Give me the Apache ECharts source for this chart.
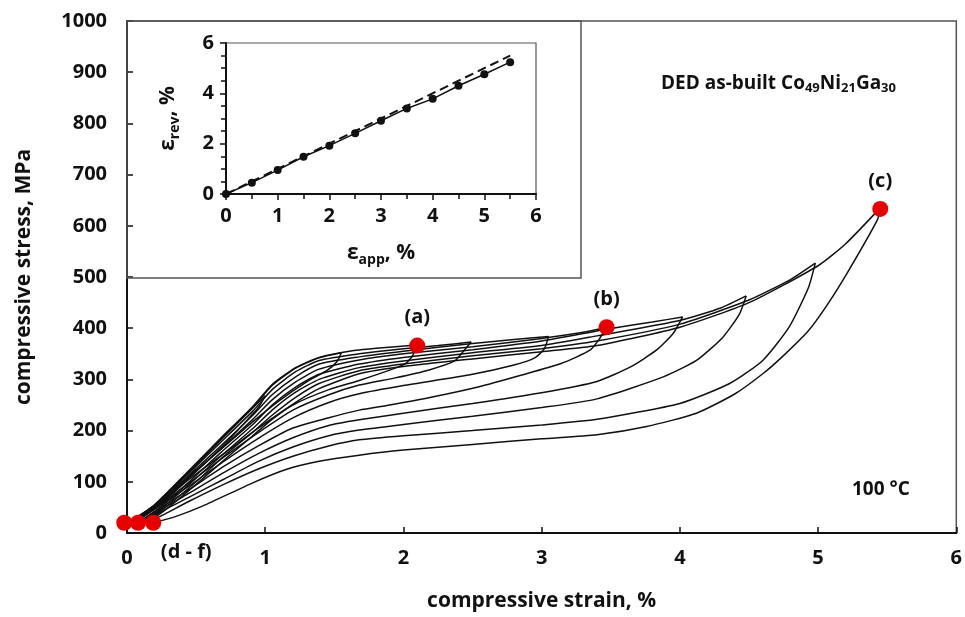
<!DOCTYPE html>
<html>
<head>
<meta charset="utf-8">
<script src="https://cdn.jsdelivr.net/npm/echarts@6/dist/echarts.min.js"></script>
<style>
  html, body { margin: 0; padding: 0; background: #fff; }
  #chart { width: 965px; height: 617px; }
</style>
</head>
<body>
<div id="chart"></div>
<script>
// loading / unloading branches, [strain %, stress MPa]
var load1 = [[0,20],[0.1,35],[0.2,52],[0.3,75],[0.4,100],[0.5,125]];
var unload1 = [[0.5,125],[0.4,95],[0.3,70],[0.2,48],[0.1,32],[0,20]];
var load2 = [[0,20],[0.2,54],[0.4,105],[0.6,160],[0.8,215],[1.0,268]];
var unload2 = [[1.0,268],[0.95,245],[0.85,215],[0.7,172],[0.5,120],[0.3,72],[0.15,42],[0.02,20]];
var load3 = [[0.02,20],[0.2,55],[0.43,115],[0.67,180],[0.91,245],[1.05,288],[1.22,322],[1.39,342],[1.55,352]];
var unload3 = [[1.55,352],[1.52,335],[1.45,318],[1.3,295],[1.1,258],[0.9,215],[0.7,168],[0.5,122],[0.3,75],[0.15,43],[0.03,20]];
var load4 = [[0.03,20],[0.2,55],[0.43,117],[0.67,183],[0.91,247],[1.05,290],[1.22,323],[1.39,343],[1.63,356],[1.85,362],[2.09,367]];
var unload4 = [[2.09,367],[2.07,348],[2.02,332],[1.92,320],[1.68,298],[1.46,280],[1.2,250],[0.95,205],[0.7,155],[0.45,105],[0.25,60],[0.04,20]];
var load5 = [[0.04,20],[0.2,52],[0.43,112],[0.67,175],[0.91,238],[1.05,280],[1.22,315],[1.39,337],[1.68,350],[2.0,360],[2.25,366],[2.49,373]];
var unload5 = [[2.49,373],[2.44,357],[2.37,336],[2.18,318],[1.94,303],[1.68,289],[1.46,270],[1.2,240],[0.95,196],[0.7,148],[0.45,98],[0.25,57],[0.05,20]];
var load6 = [[0.05,20],[0.2,50],[0.43,108],[0.67,168],[0.91,230],[1.05,270],[1.22,305],[1.39,330],[1.68,344],[2.0,355],[2.5,370],[2.8,378],[3.05,384]];
var unload6 = [[3.05,384],[3.02,360],[2.95,342],[2.8,328],[2.5,310],[2.0,288],[1.68,272],[1.46,255],[1.2,225],[0.95,185],[0.7,140],[0.45,92],[0.25,55],[0.05,20]];
var load7 = [[0.05,20],[0.2,48],[0.43,104],[0.67,162],[0.91,222],[1.05,260],[1.22,295],[1.39,320],[1.68,338],[2.0,350],[2.5,364],[3.0,380],[3.3,392],[3.47,402]];
var unload7 = [[3.47,402],[3.42,380],[3.35,357],[3.14,331],[2.85,308],[2.54,285],[2.2,265],[1.9,250],[1.68,240],[1.46,225],[1.2,205],[0.95,170],[0.7,130],[0.45,85],[0.25,50],[0.08,20]];
var load8 = [[0.08,20],[0.25,52],[0.45,100],[0.67,155],[0.91,212],[1.05,250],[1.22,285],[1.39,310],[1.68,330],[2.0,343],[2.5,358],[3.0,375],[3.47,398],[3.8,412],[4.02,422]];
var unload8 = [[4.02,422],[3.95,389],[3.83,357],[3.64,324],[3.4,296],[3.0,274],[2.5,253],[2.0,234],[1.68,221],[1.46,210],[1.2,186],[0.95,155],[0.7,118],[0.45,78],[0.25,46],[0.1,20]];
var load9 = [[0.1,20],[0.25,48],[0.45,95],[0.67,148],[0.91,204],[1.05,240],[1.22,275],[1.39,300],[1.68,323],[2.0,336],[2.5,352],[3.0,366],[3.4,385],[4.0,415],[4.3,440],[4.48,463]];
var unload9 = [[4.48,463],[4.43,427],[4.31,382],[4.12,337],[3.88,305],[3.4,262],[3.0,245],[2.5,228],[2.0,212],[1.68,201],[1.46,190],[1.2,168],[0.95,140],[0.7,105],[0.45,70],[0.25,42],[0.12,20]];
var load10 = [[0.12,20],[0.3,55],[0.5,100],[0.7,150],[0.91,197],[1.05,230],[1.22,265],[1.39,292],[1.68,317],[2.0,330],[2.5,346],[3.0,360],[3.4,375],[4.0,408],[4.5,455],[4.8,495],[4.98,527]];
var unload10 = [[4.98,527],[4.93,479],[4.79,402],[4.6,337],[4.36,292],[4.0,253],[3.4,222],[3.0,211],[2.5,200],[2.0,190],[1.68,182],[1.46,170],[1.2,150],[0.95,125],[0.7,95],[0.45,62],[0.28,38],[0.15,20]];
var load11 = [[0.15,20],[0.3,50],[0.5,95],[0.7,142],[0.91,190],[1.05,222],[1.22,255],[1.39,282],[1.68,311],[2.0,325],[2.5,340],[3.0,354],[3.4,366],[4.0,402],[4.5,450],[5.0,522],[5.2,565],[5.45,635]];
var unload11 = [[5.45,635],[5.43,612],[5.22,512],[5.07,447],[4.93,395],[4.74,344],[4.6,311],[4.4,272],[4.12,234],[3.76,208],[3.4,192],[3.0,184],[2.5,173],[2.0,162],[1.68,152],[1.39,140],[1.15,124],[0.91,98],[0.55,53],[0.35,32],[0.19,20]];

// red markers
var markedPoints = [['(a)',2.10,366],['(b)',3.47,402],['(c)',5.45,633]];
var residualPoints = [[-0.02,20],[0.08,20],[0.19,20]];

// inset: recovered vs applied strain
var appStrain = [0,0.5,1,1.5,2,2.5,3,3.5,4,4.5,5,5.5];
var revStrain = [0,0.45,0.95,1.48,1.92,2.41,2.91,3.40,3.78,4.30,4.76,5.24];
var idealLine = [[0,0],[5.5,5.5]];

var cycles = [load1,unload1,load2,unload2,load3,unload3,load4,unload4,load5,unload5,load6,unload6,
              load7,unload7,load8,unload8,load9,unload9,load10,unload10,load11,unload11];

var font = 'Open Sans';
var black = '#111';

var seriesList = [];
cycles.forEach(function (c) {
    seriesList.push({
        type: 'line',
        data: c,
        showSymbol: false,
        smooth: 0.2,
        lineStyle: {color: black, width: 1.5},
        silent: true,
        z: 2
    });
});

var dotLabel = {
    show: true,
    position: 'inside',
    formatter: '{b}',
    color: black,
    fontFamily: font,
    fontWeight: 'bold',
    fontSize: 20
};

seriesList.push({
    type: 'scatter',
    data: markedPoints.map(function (p) { return {name: p[0], value: [p[1], p[2]]}; }),
    symbolSize: 16,
    itemStyle: {color: '#e60000', opacity: 1},
    clip: false,
    z: 5,
    label: Object.assign({offset: [0, -28]}, dotLabel)
});
seriesList.push({
    type: 'scatter',
    data: residualPoints.map(function (p, i) {
        return {name: i === 2 ? '(d - f)' : '', value: p};
    }),
    symbolSize: 16,
    itemStyle: {color: '#e60000', opacity: 1},
    clip: false,
    z: 5,
    label: Object.assign({offset: [33, 30]}, dotLabel)
});

// inset series
seriesList.push({
    type: 'line',
    xAxisIndex: 1,
    yAxisIndex: 1,
    data: idealLine,
    showSymbol: false,
    lineStyle: {color: black, width: 2, type: [9, 5]},
    z: 3
});
seriesList.push({
    type: 'line',
    xAxisIndex: 1,
    yAxisIndex: 1,
    data: appStrain.map(function (x, i) { return [x, revStrain[i]]; }),
    symbol: 'circle',
    symbolSize: 8,
    itemStyle: {color: black},
    lineStyle: {color: black, width: 1.5},
    z: 4
});

var tickLabel = {color: black, fontFamily: font, fontWeight: 'bold', fontSize: 20};
var nameStyle = {color: black, fontFamily: font, fontWeight: 'bold', fontSize: 21};
var subRich = {
    b: {color: black, fontFamily: font, fontWeight: 'bold', fontSize: 21},
    s: {color: black, fontFamily: font, fontWeight: 'bold', fontSize: 14, verticalAlign: 'bottom', padding: [13, 0, 0, 0]}
};

var option = {
    backgroundColor: '#fff',
    animation: false,
    title: {
        text: 'DED as-built Co{s|49}Ni{s|21}Ga{s|30}',
        left: 656,
        top: 67,
        textStyle: {
            color: black, fontFamily: font, fontWeight: 'bold', fontSize: 19,
            rich: {s: {color: black, fontFamily: font, fontWeight: 'bold', fontSize: 13, verticalAlign: 'bottom', padding: [10, 0, 0, 0]}}
        }
    },
    grid: [
        {left: 127, top: 21, width: 835, height: 516, show: true, borderColor: '#555', borderWidth: 1.5, containLabel: false},
        {left: 226, top: 43, width: 310, height: 151, show: true, borderColor: '#555', borderWidth: 1.2, containLabel: false}
    ],
    xAxis: [
        {
            gridIndex: 0, type: 'value', min: 0, max: 6, interval: 1,
            name: 'compressive strain, %', nameLocation: 'middle', nameGap: 58,
            nameTextStyle: nameStyle,
            axisLine: {lineStyle: {color: black, width: 2}},
            axisTick: {inside: true, length: 6, lineStyle: {color: black, width: 1.5}},
            axisLabel: Object.assign({margin: 15}, tickLabel),
            splitLine: {show: false}
        },
        {
            gridIndex: 1, type: 'value', min: 0, max: 6, interval: 1,
            name: '{b|ε}{s|app}{b|, %}', nameLocation: 'middle', nameGap: 46,
            nameTextStyle: {rich: subRich},
            axisLine: {lineStyle: {color: black, width: 2}},
            axisTick: {inside: false, length: 6, lineStyle: {color: black, width: 1.5}},
            axisLabel: Object.assign({margin: 12}, tickLabel),
            splitLine: {show: false}
        },
        {
            gridIndex: 1, type: 'value', min: 0, max: 6, interval: 0.5,
            axisLine: {show: false},
            axisTick: {inside: true, length: 5, lineStyle: {color: black, width: 1.5}},
            axisLabel: {show: false},
            splitLine: {show: false}
        }
    ],
    yAxis: [
        {
            gridIndex: 0, type: 'value', min: 0, max: 1000, interval: 100,
            name: 'compressive stress, MPa', nameLocation: 'middle', nameGap: 92,
            nameTextStyle: nameStyle,
            axisLine: {lineStyle: {color: black, width: 2}},
            axisTick: {inside: true, length: 6, lineStyle: {color: black, width: 1.5}},
            axisLabel: Object.assign({margin: 20, formatter: function (v) { return String(v); }}, tickLabel),
            splitLine: {show: false}
        },
        {
            gridIndex: 1, type: 'value', min: 0, max: 6, interval: 2,
            name: '{b|ε}{s|rev}{b|, %}', nameLocation: 'middle', nameGap: 44,
            nameTextStyle: {rich: subRich},
            axisLine: {lineStyle: {color: black, width: 2}},
            axisTick: {inside: false, length: 6, lineStyle: {color: black, width: 1.5}},
            axisLabel: Object.assign({margin: 12}, tickLabel),
            splitLine: {show: false}
        },
        {
            gridIndex: 1, type: 'value', min: 0, max: 6, interval: 0.5,
            axisLine: {show: false},
            axisTick: {inside: true, length: 5, lineStyle: {color: black, width: 1.5}},
            axisLabel: {show: false},
            splitLine: {show: false}
        }
    ],
    graphic: [
        {type: 'rect', shape: {x: 127, y: 21, width: 454, height: 257}, style: {fill: 'none', stroke: '#555', lineWidth: 1.5}, z: 10},
        {type: 'text', left: 852, top: 480, style: {text: '100 °C', fill: black, font: 'bold 19px "Open Sans"'}, z: 10}
    ],
    series: seriesList
};

var chart = echarts.init(document.getElementById('chart'));
chart.setOption(option);
</script>
</body>
</html>
